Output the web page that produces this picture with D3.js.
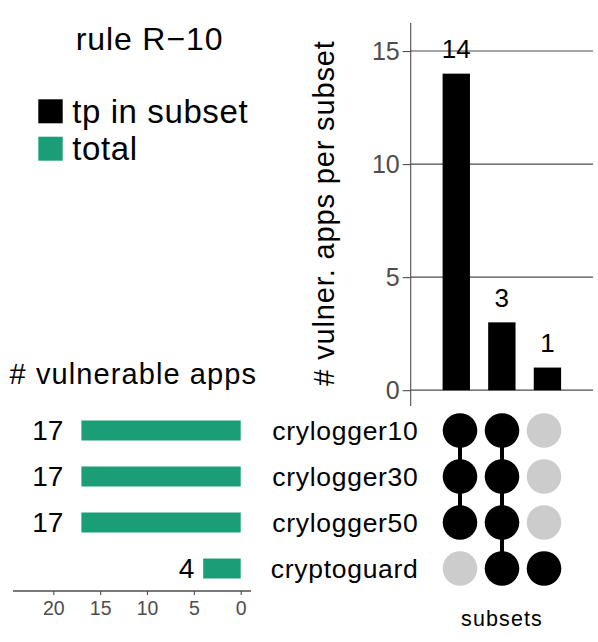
<!DOCTYPE html>
<html><head><meta charset="utf-8">
<script src="https://cdn.jsdelivr.net/npm/d3@7/dist/d3.min.js"></script>
<style>
body{margin:0;background:#fff;}
text{font-family:"Liberation Sans",Arial,Helvetica,sans-serif;}
</style></head>
<body>
<svg id="chart" width="598" height="642"></svg>
<script>
// ---- data ----
const chartTitle = "rule R\u221210";
const legendLabels = ["tp in subset", "total"];
const setNames = ["crylogger10", "crylogger30", "crylogger50", "cryptoguard"];
const setTotals = [17, 17, 17, 4];
const subsetIds = ["A", "B", "C"];
const subsetCounts = [14, 3, 1];
const subsetMembership = [
  [1, 1, 1, 0],
  [1, 1, 1, 1],
  [0, 0, 0, 1]
];
const countTicks = [0, 5, 10, 15];
const totalTicks = [0, 5, 10, 15, 20];

// ---- styles ----
const GREEN = "#1B9E77", GREY = "#CCCCCC", AXIS = "#4D4D4D";

const svg = d3.select("#chart");

// ---- scales ----
const yTop = d3.scaleLinear().domain([-0.7, 16.24]).range([406, 23]);
const xTop = d3.scaleBand().domain(subsetIds).range([410.7, 593]).paddingInner(0.4).paddingOuter(0.7);
const xDots = d3.scalePoint().domain(subsetIds).range([460, 544]);
const yRows = d3.scalePoint().domain(setNames).range([430.5, 568.5]);
const xLeft = d3.scaleLinear().domain([24.3, -1.1]).range([13, 251]);

// ---- title & legend ----
svg.append("text").attr("x", 149.5).attr("y", 50).attr("text-anchor", "middle")
  .attr("font-size", 32).attr("letter-spacing", 0.9).text(chartTitle);
const legendColors = ["#000000", GREEN];
const leg = svg.append("g");
legendLabels.forEach((lab, i) => {
  leg.append("rect").attr("x", 38.3).attr("y", 99.3 + i * 37.4).attr("width", 24.4).attr("height", 24)
    .attr("fill", legendColors[i]);
  leg.append("text").attr("x", 72.2).attr("y", 122.8 + i * 37.4).attr("font-size", 33)
    .attr("letter-spacing", 0.6).text(lab);
});

// ---- top bar chart ----
const gTop = svg.append("g");
gTop.append("g").attr("transform", "translate(410.7,0)")
  .call(d3.axisLeft(yTop).tickValues(countTicks).tickSize(8).tickPadding(3))
  .call(g => {
    g.select(".domain").remove();
    g.selectAll(".tick line").attr("stroke", AXIS).attr("stroke-width", 1.1);
    g.selectAll(".tick text").attr("fill", AXIS).attr("font-size", 25)
      .attr("font-family", "Liberation Sans, Arial, sans-serif").attr("dy", "0.35em");
  });
// gridlines
gTop.selectAll("line.grid").data(countTicks).join("line").attr("class", "grid")
  .attr("x1", 410.7).attr("x2", 593).attr("y1", d => yTop(d)).attr("y2", d => yTop(d))
  .attr("stroke", AXIS).attr("stroke-width", 1.1);
// axis line
gTop.append("line").attr("x1", 410.7).attr("x2", 410.7).attr("y1", yTop.range()[0]).attr("y2", yTop.range()[1])
  .attr("stroke", AXIS).attr("stroke-width", 1.1);
// bars
gTop.selectAll("rect.bar").data(subsetIds).join("rect").attr("class", "bar")
  .attr("x", d => xTop(d)).attr("width", xTop.bandwidth())
  .attr("y", (d, i) => yTop(subsetCounts[i])).attr("height", (d, i) => yTop(0) - yTop(subsetCounts[i]))
  .attr("fill", "#000");
gTop.selectAll("text.val").data(subsetIds).join("text").attr("class", "val")
  .attr("x", d => xTop(d) + xTop.bandwidth() / 2).attr("y", (d, i) => yTop(subsetCounts[i]) - 15.5)
  .attr("text-anchor", "middle").attr("font-size", 26).text((d, i) => subsetCounts[i]);
// y title
svg.append("text").attr("transform", "translate(334,213) rotate(-90)").attr("text-anchor", "middle")
  .attr("font-size", 29).attr("letter-spacing", 0.85).text("# vulner. apps per subset");

// ---- left totals chart ----
const gLeft = svg.append("g");
gLeft.append("text").attr("x", 9.5).attr("y", 384.3).attr("font-size", 29).attr("letter-spacing", 1.1)
  .text("# vulnerable apps");
gLeft.selectAll("rect.tot").data(setNames).join("rect").attr("class", "tot")
  .attr("x", (d, i) => xLeft(setTotals[i])).attr("width", (d, i) => xLeft(0) - xLeft(setTotals[i]))
  .attr("y", d => yRows(d) - 10).attr("height", 20).attr("fill", GREEN);
gLeft.selectAll("text.tot").data(setNames).join("text").attr("class", "tot")
  .attr("x", (d, i) => xLeft(setTotals[i] * 1.075 + 0.65)).attr("y", d => yRows(d) + 9.8)
  .attr("text-anchor", "end").attr("font-size", 28).text((d, i) => setTotals[i]);
gLeft.append("g").attr("transform", "translate(0,591)")
  .call(d3.axisBottom(xLeft).tickValues(totalTicks).tickSize(4).tickPadding(6))
  .call(g => {
    g.select(".domain").attr("stroke", AXIS).attr("stroke-width", 1.3).attr("d", `M${xLeft.range()[0]},0H${xLeft.range()[1]}`);
    g.selectAll(".tick line").attr("stroke", AXIS).attr("stroke-width", 1.1);
    g.selectAll(".tick text").attr("fill", AXIS).attr("font-size", 19.5)
      .attr("font-family", "Liberation Sans, Arial, sans-serif");
  });

// ---- matrix ----
const gM = svg.append("g");
gM.selectAll("text.set").data(setNames).join("text").attr("class", "set")
  .attr("x", 418.5).attr("y", d => yRows(d) + 9.2).attr("text-anchor", "end")
  .attr("font-size", 26.5).attr("letter-spacing", 0.7).text(d => d);
subsetIds.forEach((s, j) => {
  const mem = subsetMembership[j];
  const inRows = setNames.filter((n, k) => mem[k]);
  if (inRows.length > 1) {
    gM.append("line").attr("x1", xDots(s)).attr("x2", xDots(s))
      .attr("y1", yRows(inRows[0])).attr("y2", yRows(inRows[inRows.length - 1]))
      .attr("stroke", "#000").attr("stroke-width", 4);
  }
  setNames.forEach((n, k) => {
    gM.append("circle").attr("cx", xDots(s)).attr("cy", yRows(n)).attr("r", 17.3)
      .attr("fill", mem[k] ? "#000" : GREY);
  });
});
gM.append("text").attr("x", 502).attr("y", 626).attr("text-anchor", "middle")
  .attr("font-size", 21.5).attr("letter-spacing", 1.1).text("subsets");
</script>
</body></html>
